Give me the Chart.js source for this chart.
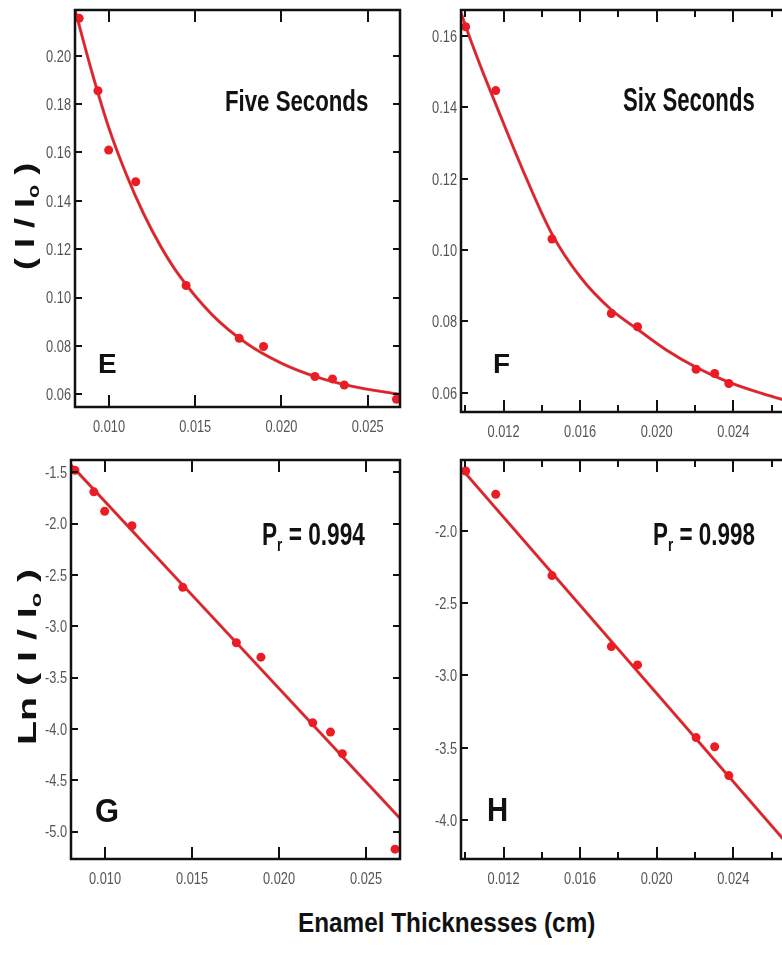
<!DOCTYPE html>
<html><head><meta charset="utf-8">
<script src="https://cdn.jsdelivr.net/npm/chart.js@4.4.1/dist/chart.umd.min.js"></script>
<style>
html,body{margin:0;padding:0;background:#fff;overflow:hidden;width:782px;height:971px;position:relative;}
.pan{position:absolute;}
.txt{position:absolute;white-space:nowrap;font-family:"Liberation Sans",Arial,sans-serif;font-weight:bold;color:#111;line-height:1;transform-origin:0 0;}
.txt sub{font-size:0.6em;vertical-align:-0.3em;line-height:0;}
</style></head><body>
<div class="pan" id="wE"><canvas id="cE"></canvas></div>
<div class="pan" id="wF"><canvas id="cF"></canvas></div>
<div class="pan" id="wG"><canvas id="cG"></canvas></div>
<div class="pan" id="wH"><canvas id="cH"></canvas></div>

<div class="txt" id="t1">Five Seconds</div>
<div class="txt" id="t2">Six Seconds</div>
<div class="txt" id="t3">E</div>
<div class="txt" id="t4">F</div>
<div class="txt" id="t5">G</div>
<div class="txt" id="t6">H</div>
<div class="txt" id="t7">P<sub>r</sub> = 0.994</div>
<div class="txt" id="t8">P<sub>r</sub> = 0.998</div>
<div class="txt" id="t9">( I / I<sub>o</sub> )</div>
<div class="txt" id="t10">Ln ( I / I<sub>o</sub> )</div>
<div class="txt" id="t11">Enamel Thicknesses (cm)</div>

<script>
// ---------- data ----------
const thickFive = [0.00827,0.00936,0.00998,0.01155,0.01447,0.01755,0.01896,0.02194,0.02296,0.02364,0.02667];
const ratioFive = [0.2155,0.1855,0.1610,0.1479,0.1050,0.0832,0.0798,0.0674,0.0664,0.0639,0.0580];
const lnFive    = [-1.48,-1.69,-1.88,-2.02,-2.62,-3.16,-3.30,-3.94,-4.03,-4.24,-5.17];

const thickSix  = [0.01002,0.01159,0.01453,0.01763,0.01900,0.02206,0.02303,0.02377];
const ratioSix  = [0.1626,0.1447,0.1031,0.0822,0.0785,0.0666,0.0654,0.0626];
const lnSix     = [-1.585,-1.746,-2.309,-2.800,-2.927,-3.430,-3.493,-3.693];

// fitted curves as traced on the figure
const fitFiveX = [0.00803,0.0090,0.0100,0.0110,0.0120,0.0130,0.0140,0.0160,0.0180,0.0200,0.0220,0.0240,0.02687];
const fitFiveY = [0.2190,0.1935,0.1700,0.1510,0.1348,0.1212,0.1099,0.0928,0.0810,0.0729,0.0673,0.0635,0.0600];
const fitSixX  = [0.00978,0.0100,0.0108,0.0116,0.0130,0.0145,0.0160,0.0176,0.0190,0.0205,0.0220,0.0237,0.0255,0.0271];
const fitSixY  = [0.1665,0.1630,0.1515,0.1408,0.1225,0.1048,0.0925,0.0834,0.0778,0.0720,0.0673,0.0631,0.0598,0.0573];
const lnFitFiveX = [0.00805,0.02695];
const lnFitFiveY = [-1.43,-4.87];
const lnFitSixX  = [0.00978,0.02707];
const lnFitSixY  = [-1.566,-4.202];

// ticks
const xTicksFive  = [0.010,0.015,0.020,0.025];
const xLabelsFive = ['0.010','0.015','0.020','0.025'];
const xTicksSix   = [0.010,0.012,0.014,0.016,0.018,0.020,0.022,0.024,0.026];
const xLabelsSix  = ['','0.012','','0.016','','0.020','','0.024',''];
const yTicksE = [0.06,0.08,0.10,0.12,0.14,0.16,0.18,0.20];
const yLabelsE = ['0.06','0.08','0.10','0.12','0.14','0.16','0.18','0.20'];
const yTicksF = [0.06,0.08,0.10,0.12,0.14,0.16];
const yLabelsF = ['0.06','0.08','0.10','0.12','0.14','0.16'];
const yTicksG = [-5.0,-4.5,-4.0,-3.5,-3.0,-2.5,-2.0,-1.5];
const yLabelsG = ['-5.0','-4.5','-4.0','-3.5','-3.0','-2.5','-2.0','-1.5'];
const yTicksH = [-4.0,-3.5,-3.0,-2.5,-2.0];
const yLabelsH = ['-4.0','-3.5','-3.0','-2.5','-2.0'];

const RED = '#ec1c24';
const PAD_T = 20, PAD_R = 10, YW = 60, XH = 45;

// frame, inward tick marks and condensed tick labels, all positioned by the chart's scales
const frameTicks = {
  id: 'frameTicks',
  afterDraw(chart) {
    const {ctx, chartArea: a, scales: {x, y}} = chart;
    ctx.save();
    ctx.strokeStyle = '#111';
    ctx.lineWidth = 2;
    ctx.beginPath();
    x.ticks.forEach(t => {
      const p = Math.round(x.getPixelForValue(t.value));
      const len = (t.label && t.label !== '') ? 12 : 7;
      ctx.moveTo(p, a.bottom); ctx.lineTo(p, a.bottom - len);
      ctx.moveTo(p, a.top); ctx.lineTo(p, a.top + len);
    });
    y.ticks.forEach(t => {
      const p = Math.round(y.getPixelForValue(t.value));
      ctx.moveTo(a.left, p); ctx.lineTo(a.left + 7, p);
      ctx.moveTo(a.right, p); ctx.lineTo(a.right - 7, p);
    });
    ctx.stroke();
    ctx.lineWidth = 2.5;
    ctx.strokeRect(a.left, a.top, a.right - a.left, a.bottom - a.top);

    ctx.fillStyle = '#555';
    ctx.font = '16px "Liberation Sans", Arial, sans-serif';
    ctx.textBaseline = 'alphabetic';
    x.ticks.forEach(t => {
      if (!t.label) return;
      const p = x.getPixelForValue(t.value);
      ctx.save(); ctx.translate(p, a.bottom + 24.5); ctx.scale(0.8, 1);
      ctx.textAlign = 'center'; ctx.fillText(t.label, 0, 0); ctx.restore();
    });
    y.ticks.forEach(t => {
      if (!t.label) return;
      const p = y.getPixelForValue(t.value);
      ctx.save(); ctx.translate(a.left - 4, p + 5.8); ctx.scale(0.8, 1);
      ctx.textAlign = 'right'; ctx.fillText(t.label, 0, 0); ctx.restore();
    });
    ctx.restore();
  }
};

function pts(xs, ys){ return xs.map((v,i)=>({x:v, y:ys[i]})); }

function panel(key, area, xr, yr, xt, xl, yt, yl, px, py, fx, fy) {
  const left = area.L - YW, top = area.T - PAD_T;
  const W = area.R + PAD_R - left, H = area.B + XH - top;
  const wrap = document.getElementById('w'+key);
  wrap.style.left = left + 'px'; wrap.style.top = top + 'px';
  const cv = document.getElementById('c'+key);
  cv.width = W; cv.height = H; cv.style.width = W+'px'; cv.style.height = H+'px';
  return new Chart(cv, {
    type: 'scatter',
    data: { datasets: [
      { data: pts(px, py), backgroundColor: RED, borderWidth: 0, pointRadius: 4.5, pointHoverRadius: 4.5, showLine: false, order: 0, clip: false },
      { data: pts(fx, fy), showLine: true, borderColor: RED, borderWidth: 2.3, pointRadius: 0, cubicInterpolationMode: 'monotone', order: 1 },
      { data: pts(fx, fy), showLine: true, borderColor: 'rgba(80,0,0,0.45)', borderWidth: 3.2, pointRadius: 0, cubicInterpolationMode: 'monotone', order: 2 }
    ]},
    options: {
      responsive: false, animation: false, devicePixelRatio: 1,
      layout: { padding: {top: PAD_T, right: PAD_R, left: 0, bottom: 0} },
      plugins: { legend: {display:false}, tooltip: {enabled:false} },
      events: [],
      scales: {
        x: { type:'linear', position:'bottom', min: xr[0], max: xr[1],
             afterBuildTicks: s => { s.ticks = xt.map(v => ({value: v})); },
             afterFit: s => { s.height = XH; },
             grid: {display:false, drawTicks:false}, border: {display:false},
             ticks: { display:false, autoSkip:false, maxRotation:0, minRotation:0,
                      callback: (v, i) => xl[i] } },
        y: { type:'linear', position:'left', min: yr[0], max: yr[1],
             afterBuildTicks: s => { s.ticks = yt.map(v => ({value: v})); },
             afterFit: s => { s.width = YW; },
             grid: {display:false, drawTicks:false}, border: {display:false},
             ticks: { display:false, autoSkip:false,
                      callback: (v, i) => yl[i] } }
      }
    },
    plugins: [frameTicks]
  });
}

panel('E', {L:75, T:10, R:400, B:407}, [0.008029, 0.026873], [0.0548, 0.2189],
      xTicksFive, xLabelsFive, yTicksE, yLabelsE, thickFive, ratioFive, fitFiveX, fitFiveY);
panel('F', {L:461, T:10, R:792, B:412}, [0.009776, 0.02707], [0.0546, 0.1673],
      xTicksSix, xLabelsSix, yTicksF, yLabelsF, thickSix, ratioSix, fitSixX, fitSixY);
panel('G', {L:71, T:460, R:400, B:859}, [0.008046, 0.026954], [-5.266, -1.380],
      xTicksFive, xLabelsFive, yTicksG, yLabelsG, thickFive, lnFive, lnFitFiveX, lnFitFiveY);
panel('H', {L:461, T:460, R:792, B:859}, [0.009776, 0.02707], [-4.270, -1.509],
      xTicksSix, xLabelsSix, yTicksH, yLabelsH, thickSix, lnSix, lnFitSixX, lnFitSixY);

// ---------- text placement ----------
const ASC = 0.8465, CAP = 0.716;
function place(id, left, capTop, baseline, width) {
  const el = document.getElementById(id);
  const fs = (baseline - capTop) / CAP;
  el.style.fontSize = fs + 'px';
  const nat = el.offsetWidth;
  el.style.left = left + 'px';
  el.style.top = (baseline - ASC * fs) + 'px';
  el.style.transform = 'scaleX(' + (width / nat) + ')';
}
function placeRot(id, capX, baseX, startY, length) {
  const el = document.getElementById(id);
  const fs = (baseX - capX) / CAP;
  el.style.fontSize = fs + 'px';
  const nat = el.offsetWidth;
  el.style.left = (baseX - ASC * fs) + 'px';
  el.style.top = startY + 'px';
  el.style.transform = 'rotate(-90deg) scaleX(' + (length / nat) + ')';
}
place('t1', 225, 90, 111.7, 143);
place('t2', 623, 88.5, 111.7, 132);
place('t3', 98, 354, 374, 19);
place('t4', 493, 354, 374, 17);
place('t5', 95, 798, 822, 24);
place('t6', 487, 797, 821, 21);
place('t7', 262, 522, 545, 103);
place('t8', 653, 522, 545, 102);
placeRot('t9', 15, 35, 270, 107);
placeRot('t10', 18, 36, 745, 177);
place('t11', 298, 913, 933, 297);
</script>
</body></html>
